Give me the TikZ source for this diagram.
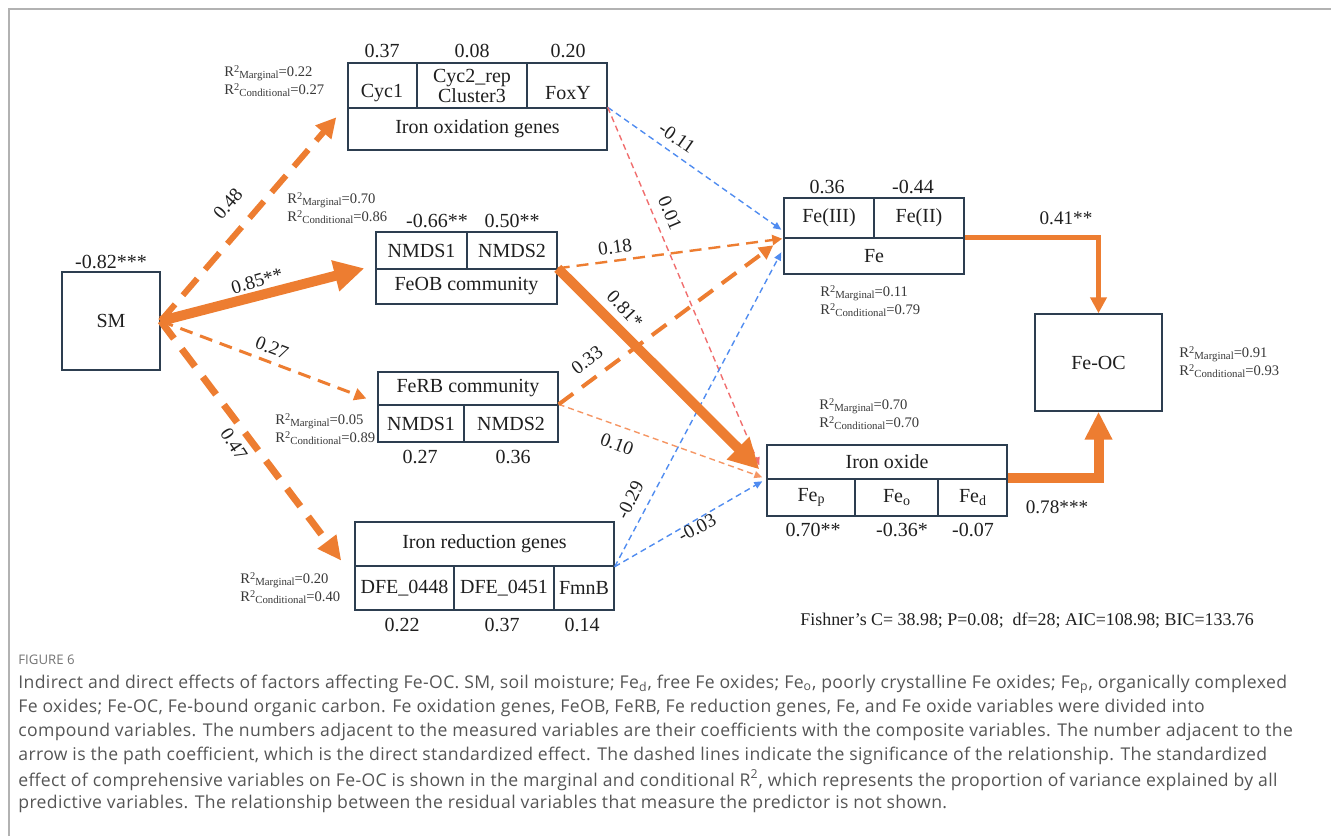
\documentclass[tikz,border=0pt]{standalone}
\usepackage{fontspec}
\setmainfont{Liberation Serif}
\newfontfamily\capfont[LetterSpace=2.0]{Open Sans}
\newfontfamily\figfont{Open Sans}
\usetikzlibrary{arrows.meta,fit,calc}
\definecolor{org}{RGB}{237,125,49}
\definecolor{blu}{RGB}{80,140,240}
\definecolor{pnk}{RGB}{240,110,110}
\definecolor{lorg}{RGB}{245,150,100}
\definecolor{bd}{RGB}{45,62,80}
\definecolor{frm}{RGB}{178,178,178}
\definecolor{captx}{RGB}{85,85,85}
\definecolor{capgr}{RGB}{115,115,115}
\newcommand\rsq[2]{R\raisebox{0.6ex}{\fontsize{5.2}{6}\selectfont 2}\raisebox{-0.35ex}{\fontsize{5.4}{6}\selectfont #1}=#2}
\newcommand\fesub[1]{Fe\raisebox{-0.25ex}{\fontsize{7}{8}\selectfont #1}}
\begin{document}
\begin{tikzpicture}[x=0.5pt,y=-0.5pt,
  cellsty/.style={draw=bd, line width=0.7pt, inner sep=0pt},
  txt/.style={font=\rmfamily\fontsize{10}{10}\selectfont, inner sep=0pt, text=black!88, align=center},
  rs/.style={font=\rmfamily\fontsize{7.3}{9.2}\selectfont, inner sep=0pt, text=black!78, align=left, anchor=west},
  lab/.style={font=\rmfamily\fontsize{9.6}{10}\selectfont, inner sep=0pt, text=black!88},
  thinblue/.style={draw=blu, line width=0.7pt, dash pattern=on 3pt off 2pt, -{Triangle[length=4pt,width=3.5pt]}},
  thinpink/.style={draw=pnk, line width=0.7pt, dash pattern=on 3pt off 2pt, -{Triangle[length=4pt,width=3.5pt]}},
  thinorg/.style={draw=lorg, line width=0.7pt, dash pattern=on 3pt off 2pt, -{Triangle[length=4pt,width=3.5pt]}},
  capl/.style={font=\capfont\fontsize{8.8}{10}\selectfont, text=captx, anchor=west, inner sep=0pt}
]
\useasboundingbox (0,0) rectangle (1331,836);
\draw[frm, line width=1pt] (9,836) -- (9,8.5) -- (1331,8.5);

% SM
\node[cellsty, fit={(62,272) (160,370)}] (sm) {};
\node[txt] (smt) at (sm.center) {SM};
\node[txt] (smn) at (111,262) {-0.82***};

% Iron oxidation genes
\node[cellsty, fit={(348,63) (417,108)}] (ox1) {};
\node[cellsty, fit={(417,63) (527,108)}] (ox2) {};
\node[cellsty, fit={(527,63) (607,108)}] (ox3) {};
\node[cellsty, fit={(348,108) (607,150)}] (oxb) {};
\node[txt] (ox1t) at (382,93) {Cyc1};
\node[txt, font=\rmfamily\fontsize{10}{10.2}\selectfont] (ox2t) at (472,86) {Cyc2\_rep\\Cluster3};
\node[txt] (ox3t) at (568,93) {FoxY};
\node[txt] (oxbt) at (oxb.center) {Iron oxidation genes};
\node[txt] (ox1n) at (382,51) {0.37};
\node[txt] (ox2n) at (472,51) {0.08};
\node[txt] (ox3n) at (568,51) {0.20};
\node[rs] (oxr) at (224,81) {\rsq{Marginal}{0.22}\\\rsq{Conditional}{0.27}};

% FeOB community
\node[cellsty, fit={(376,232) (467,269)}] (fb1) {};
\node[cellsty, fit={(467,232) (557,269)}] (fb2) {};
\node[cellsty, fit={(376,269) (557,304)}] (fbb) {};
\node[txt] (fb1t) at (fb1.center) {NMDS1};
\node[txt] (fb2t) at (fb2.center) {NMDS2};
\node[txt] (fbbt) at (fbb.center) {FeOB community};
\node[txt] (fb1n) at (437,221) {-0.66**};
\node[txt] (fb2n) at (512,221) {0.50**};
\node[rs] (fbr) at (287,208) {\rsq{Marginal}{0.70}\\\rsq{Conditional}{0.86}};

% FeRB community
\node[cellsty, fit={(378,372) (558,405)}] (rbt) {};
\node[cellsty, fit={(378,405) (464,442)}] (rb1) {};
\node[cellsty, fit={(464,405) (558,442)}] (rb2) {};
\node[txt] (rbtt) at (rbt.center) {FeRB community};
\node[txt] (rb1t) at (rb1.center) {NMDS1};
\node[txt] (rb2t) at (rb2.center) {NMDS2};
\node[txt] (rb1n) at (420,457) {0.27};
\node[txt] (rb2n) at (513,457) {0.36};
\node[rs] (rbr) at (275,429) {\rsq{Marginal}{0.05}\\\rsq{Conditional}{0.89}};

% Iron reduction genes
\node[cellsty, fit={(355,522) (614,566)}] (rdt) {};
\node[cellsty, fit={(355,566) (454,610)}] (rd1) {};
\node[cellsty, fit={(454,566) (554,610)}] (rd2) {};
\node[cellsty, fit={(554,566) (614,610)}] (rd3) {};
\node[txt] (rdtt) at (rdt.center) {Iron reduction genes};
\node[txt] (rd1t) at (rd1.center) {DFE\_0448};
\node[txt] (rd2t) at (rd2.center) {DFE\_0451};
\node[txt] (rd3t) at (rd3.center) {FmnB};
\node[txt] (rd1n) at (402,625) {0.22};
\node[txt] (rd2n) at (502,625) {0.37};
\node[txt] (rd3n) at (582,625) {0.14};
\node[rs] (rdr) at (240,588) {\rsq{Marginal}{0.20}\\\rsq{Conditional}{0.40}};

% Fe
\node[cellsty, fit={(784,198) (874,238)}] (fe1) {};
\node[cellsty, fit={(874,198) (964,238)}] (fe2) {};
\node[cellsty, fit={(784,238) (964,274)}] (feb) {};
\node[txt] (fe1t) at (fe1.center) {Fe(III)};
\node[txt] (fe2t) at (fe2.center) {Fe(II)};
\node[txt] (febt) at (feb.center) {Fe};
\node[txt] (fe1n) at (827,187) {0.36};
\node[txt] (fe2n) at (913,187) {-0.44};
\node[rs] (fer) at (820,301) {\rsq{Marginal}{0.11}\\\rsq{Conditional}{0.79}};

% Iron oxide
\node[cellsty, fit={(767,445) (1007,479)}] (iot) {};
\node[cellsty, fit={(767,479) (855,516)}] (io1) {};
\node[cellsty, fit={(855,479) (938,516)}] (io2) {};
\node[cellsty, fit={(938,479) (1007,516)}] (io3) {};
\node[txt] (iott) at (iot.center) {Iron oxide};
\node[txt] (io1t) at (io1.center) {\fesub{p}};
\node[txt] (io2t) at (io2.center) {\fesub{o}};
\node[txt] (io3t) at (io3.center) {\fesub{d}};
\node[txt] (io1n) at (813,530) {0.70**};
\node[txt] (io2n) at (902,530) {-0.36*};
\node[txt] (io3n) at (973,530) {-0.07};
\node[rs] (ior) at (819,414) {\rsq{Marginal}{0.70}\\\rsq{Conditional}{0.70}};

% Fe-OC
\node[cellsty, fit={(1035,314) (1162,411)}] (feoc) {};
\node[txt] (feoct) at (feoc.center) {Fe-OC};
\node[rs] (feocr) at (1179,362) {\rsq{Marginal}{0.91}\\\rsq{Conditional}{0.93}};

% connectors
\draw[thinblue] (oxb.north east) -- ($(fe1.south west)+(-2,-9)$);
\draw[thinpink] (oxb.north east) -- ($(io1.north west)+(-7,-13)$);
\draw[thinblue] (rdt.south east) -- ($(feb.north west)+(-2,15)$);
\draw[thinblue] (rdt.south east) -- ($(io1.north west)+(-4,3)$);
\draw[thinorg] (rb2.north east) -- ($(io1.north west)+(-4,-1)$);
\draw[org, line width=1.2pt, dash pattern=on 6pt off 3.5pt, -{Triangle[length=5pt,width=5pt]}] (fbb.north east) -- ($(fe1.south west)+(-1,0)$);
\draw[org, line width=2pt, dash pattern=on 9pt off 5.5pt, -{Triangle[length=7pt,width=7pt]}] (rb2.north east) -- ($(feb.north west)+(-10,8)$);
\draw[org, line width=5pt, -{Triangle[length=15pt,width=15pt]}] (fbb.north east) -- ($(io1.north west)+(-7,-9)$);
\draw[org, line width=3pt, dash pattern=on 11pt off 6pt, -{Triangle[length=10pt,width=10pt]}] (sm.east) -- ($(oxb.north west)+(-11,10)$);
\draw[org, line width=5pt, -{Triangle[length=15pt,width=15pt]}] (sm.east) -- ($(fbb.north west)+(-11,0)$);
\draw[org, line width=1.5pt, dash pattern=on 6.5pt off 4pt, -{Triangle[length=6pt,width=6pt]}] (sm.east) -- ($(rbt.west)+(-11,10)$);
\draw[org, line width=3.5pt, dash pattern=on 11pt off 6.5pt, -{Triangle[length=12pt,width=11pt]}] (sm.east) -- ($(rdt.south west)+(-13,-6)$);
\draw[org, line width=2.5pt, miter limit=10, -{Triangle[length=8pt,width=8pt]}] (feb.north east) -| (feoc.north);
\draw[org, line width=5pt, -{Triangle[length=14pt,width=13pt]}] (io3.north east) -| (feoc.south);

% path labels
\node[lab, rotate=49] (l48) at (228,204) {0.48};
\node[lab, rotate=16] (l85) at (257,281) {0.85**};
\node[lab, rotate=-21] (l27) at (272,348) {0.27};
\node[lab, rotate=-57] (l47) at (234,444) {0.47};
\node[lab, rotate=-35] (l11) at (677,138) {-0.11};
\node[lab, rotate=-67] (l01) at (670,213) {0.01};
\node[lab, rotate=8] (l18) at (615,247) {0.18};
\node[lab, rotate=-47] (l81) at (625,309) {0.81*};
\node[lab, rotate=37] (l33) at (587,360) {0.33};
\node[lab, rotate=-20] (l10) at (617,444) {0.10};
\node[lab, rotate=64] (l29) at (630,500) {-0.29};
\node[lab, rotate=28] (l03) at (697,528) {-0.03};
\node[lab] (l41) at (1066,218) {0.41**};
\node[lab] (l78) at (1057,507) {0.78***};

\node[lab, font=\rmfamily\fontsize{8.95}{10}\selectfont, anchor=west] (fish) at (800,621) {Fishner’s C= 38.98; P=0.08;\ \ df=28; AIC=108.98; BIC=133.76};

% caption
\node[capl, font=\figfont\fontsize{6.6}{8}\selectfont, text=capgr] (fig) at (18,660) {FIGURE 6};
\node[capl] (c1) at (18,684) {Indirect and direct effects of factors affecting Fe-OC. SM, soil moisture; Fe\textsubscript{d}, free Fe oxides; Fe\textsubscript{o}, poorly crystalline Fe oxides; Fe\textsubscript{p}, organically complexed};
\node[capl] (c2) at (18,708) {Fe oxides; Fe-OC, Fe-bound organic carbon. Fe oxidation genes, FeOB, FeRB, Fe reduction genes, Fe, and Fe oxide variables were divided into};
\node[capl] (c3) at (18,732) {compound variables. The numbers adjacent to the measured variables are their coefficients with the composite variables. The number adjacent to the};
\node[capl] (c4) at (18,756) {arrow is the path coefficient, which is the direct standardized effect. The dashed lines indicate the significance of the relationship. The standardized};
\node[capl] (c5) at (18,780) {effect of comprehensive variables on Fe-OC is shown in the marginal and conditional R\textsuperscript{2}, which represents the proportion of variance explained by all};
\node[capl] (c6) at (18,804) {predictive variables. The relationship between the residual variables that measure the predictor is not shown.};
\end{tikzpicture}
\end{document}
